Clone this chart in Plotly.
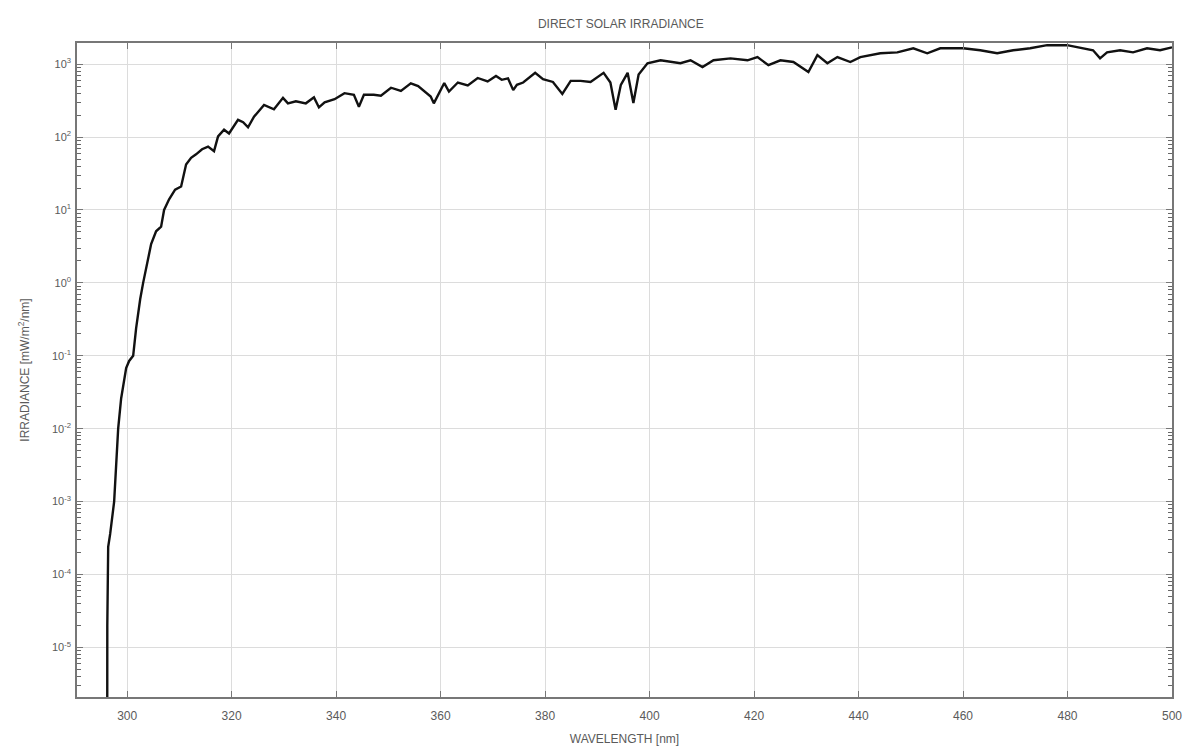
import plotly.graph_objects as go

# Wavelength (nm) and direct solar irradiance (mW/m^2/nm)
wavelength = [296.18, 296.2, 296.37, 296.75, 297.51, 297.9, 298.28, 298.85, 299.81, 300.38,
              301.15, 301.72, 302.1, 302.5, 303.06, 303.82, 304.59, 305.54, 306.5, 307.07,
              308.03, 309.18, 310.33, 311.28, 312.24, 313.19, 314.34, 315.49, 316.63, 317.4,
              318.55, 319.5, 321.22, 322.2, 323.14, 324.28, 326.2, 328.1, 329.83, 330.78,
              332.3, 334.2, 335.76, 336.71, 337.8, 339.7, 341.6, 343.4, 344.36, 345.32,
              347.2, 348.57, 350.5, 352.4, 354.3, 355.7, 356.8, 358.1, 358.7, 359.7,
              360.7, 361.6, 363.3, 365.2, 367.1, 369.0, 370.6, 371.7, 372.9, 373.9,
              374.6, 375.8, 378.1, 379.6, 381.5, 383.3, 384.9, 386.8, 388.7, 391.2,
              392.5, 393.5, 394.5, 395.8, 396.9, 397.9, 399.6, 402.1, 404.5, 405.9,
              407.84, 410.13, 412.24, 415.49, 418.74, 420.65, 422.75, 425.05, 427.53, 430.4,
              432.12, 434.03, 435.95, 438.43, 440.34, 444.17, 447.42, 450.48, 453.15, 455.64,
              460.04, 463.29, 466.54, 469.6, 472.85, 476.1, 479.92, 482.98, 484.89, 486.23,
              487.57, 490.06, 492.54, 495.22, 497.71, 500.0]
irradiance = [1e-7, 2e-5, 2.4e-4, 3.6e-4, 1e-3, 3e-3, 1e-2, 2.6e-2, 0.068, 0.085,
              0.1, 0.24, 0.41, 0.6, 1.0, 1.8, 3.4, 5.1, 5.9, 10,
              14, 19, 21, 42, 52, 58, 68, 74, 64, 102,
              126, 112, 172, 160, 136, 190, 276, 240, 345, 290,
              310, 290, 350, 255, 300, 330, 400, 380, 260, 380,
              380, 370, 475, 430, 545, 500, 430, 360, 290, 390,
              550, 420, 560, 510, 646, 580, 690, 610, 640, 440,
              520, 560, 760, 620, 570, 390, 590, 590, 570, 760,
              560, 236, 520, 760, 293, 720, 1030, 1130, 1070, 1030,
              1130, 910, 1130, 1200, 1130, 1250, 970, 1130, 1070, 778,
              1330, 1030, 1250, 1070, 1250, 1410, 1450, 1650, 1410, 1650,
              1650, 1550, 1410, 1550, 1650, 1820, 1820, 1650, 1550, 1200,
              1450, 1550, 1450, 1650, 1550, 1700]

x_ticks = [300, 320, 340, 360, 380, 400, 420, 440, 460, 480, 500]
y_tick_values = [1e3, 1e2, 1e1, 1e0, 1e-1, 1e-2, 1e-3, 1e-4, 1e-5]
y_tick_labels = ["10<sup>3</sup>", "10<sup>2</sup>", "10<sup>1</sup>", "10<sup>0</sup>",
                 "10<sup>-1</sup>", "10<sup>-2</sup>", "10<sup>-3</sup>", "10<sup>-4</sup>",
                 "10<sup>-5</sup>"]

# minor log tick positions (2..9 within each decade) for the axis decoration
minor_ticks = [m * 10.0 ** e for e in range(-6, 4) for m in range(2, 10)]

y_range = [-5.68, 3.29]

fig = go.Figure()
fig.add_trace(go.Scatter(x=wavelength, y=irradiance, mode="lines",
                         line=dict(color="#111111", width=2.4), showlegend=False))
# invisible helper trace so the minor-tick axis is drawn
fig.add_trace(go.Scatter(x=wavelength[-1:], y=irradiance[-1:], yaxis="y2",
                         mode="markers", marker=dict(opacity=0),
                         showlegend=False, hoverinfo="skip"))

font_color = "#5a5a5a"
fig.update_layout(
    width=1190, height=748,
    margin=dict(l=69, r=26, t=35, b=56),
    paper_bgcolor="white", plot_bgcolor="white",
    font=dict(family="Liberation Sans, Arial, sans-serif", size=12, color=font_color),
    title=dict(text="DIRECT SOLAR IRRADIANCE", x=0.515, xanchor="center",
               y=0.979, yanchor="middle", font=dict(size=12, color=font_color)),
    xaxis=dict(range=[290.4, 500], tickvals=x_ticks, ticks="inside", ticklen=6,
               tickcolor="#777", showline=True, linecolor="#777", linewidth=1.5,
               mirror="ticks", showgrid=True, gridcolor="#dcdcdc", gridwidth=1,
               zeroline=False, ticklabelstandoff=7,
               title=dict(text="WAVELENGTH [nm]", standoff=12,
                          font=dict(size=12, color=font_color)),
               tickfont=dict(size=12, color=font_color)),
    yaxis=dict(type="log", range=y_range, tickvals=y_tick_values,
               ticktext=y_tick_labels, ticks="inside", ticklen=6, tickcolor="#777",
               showline=True, linecolor="#777", linewidth=1.5, mirror="ticks",
               showgrid=True, gridcolor="#dcdcdc", gridwidth=1, zeroline=False,
               ticklabelstandoff=2,
               title=dict(text="IRRADIANCE [mW/m<sup>2</sup>/nm]", standoff=20,
                          font=dict(size=12, color=font_color)),
               tickfont=dict(size=11, color=font_color)),
    yaxis2=dict(type="log", range=y_range, overlaying="y", anchor="x", side="left",
                tickmode="array", tickvals=minor_ticks, showticklabels=False,
                ticks="inside", ticklen=4, tickwidth=1, tickcolor="#666",
                showgrid=False, zeroline=False, showline=False, mirror="ticks"),
)

fig.write_html("out.html")
